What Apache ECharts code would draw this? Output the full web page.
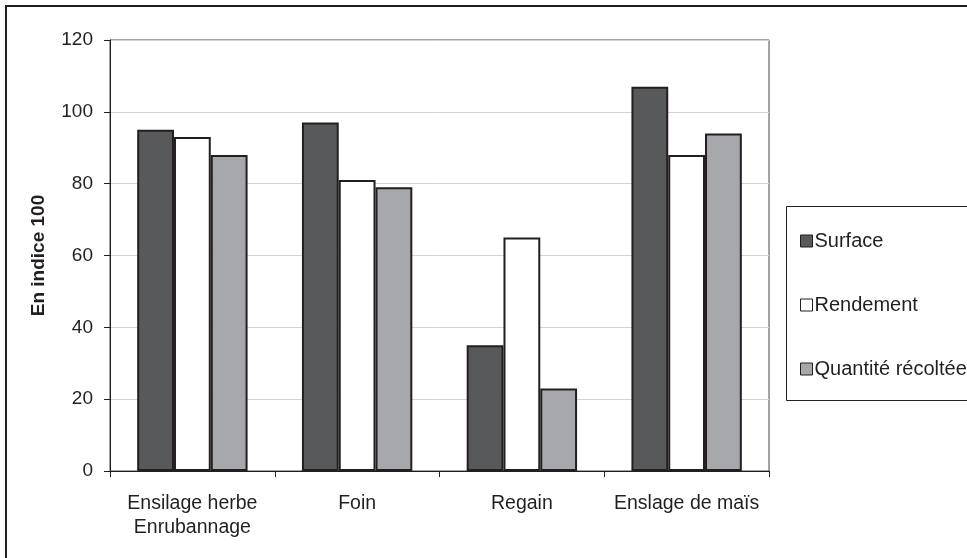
<!DOCTYPE html>
<html>
<head>
<meta charset="utf-8">
<script src="https://cdn.jsdelivr.net/npm/echarts@6/dist/echarts.min.js"></script>
<style>
  html, body { margin: 0; padding: 0; background: #fff; }
  #chart { width: 967px; height: 558px; }
</style>
</head>
<body>
<div id="chart"></div>
<script>
var categories = ['Ensilage herbe\nEnrubannage', 'Foin', 'Regain', 'Enslage de maïs'];
var surface = [95, 97, 35, 107];
var rendement = [93, 81, 65, 88];
var quantite = [88, 79, 23, 94];

var chartDom = document.getElementById('chart');
var myChart = echarts.init(chartDom);

var ink = '#231f20';
var font = 'Liberation Sans, Arial, sans-serif';

function barSeries(name, data, color) {
    return {
        name: name,
        type: 'bar',
        data: data,
        barGap: '0%',
        barCategoryGap: '33%',
        itemStyle: { color: color, borderColor: ink, borderWidth: 2 },
        emphasis: { disabled: true }
    };
}

var option = {
    animation: false,
    textStyle: { fontFamily: font },
    graphic: [
        {
            type: 'rect', silent: true, z: -1,
            shape: { x: 6, y: 6, width: 1100, height: 700 },
            style: { fill: 'none', stroke: ink, lineWidth: 2 }
        },
        {
            type: 'rect', silent: true, z: -1,
            shape: { x: 786.5, y: 206.5, width: 300, height: 194 },
            style: { fill: '#fff', stroke: ink, lineWidth: 1 }
        }
    ],
    grid: {
        left: 110, right: 198, top: 40, bottom: 87,
        show: true, borderColor: '#444', borderWidth: 1
    },
    legend: {
        orient: 'vertical',
        left: 795, top: 226,
        itemWidth: 12, itemHeight: 12, itemGap: 44,
        icon: 'rect',
        itemStyle: { borderWidth: 1 },
        textStyle: { fontSize: 20, color: ink, fontFamily: font, padding: [0, 0, 0, -3] },
        data: ['Surface', 'Rendement', 'Quantité récoltée']
    },
    xAxis: {
        type: 'category',
        data: categories,
        axisLine: { lineStyle: { color: ink, width: 1 } },
        axisTick: { show: true, interval: 0, length: 6, lineStyle: { color: ink } },
        axisLabel: { interval: 0, fontSize: 19.5, color: ink, margin: 21, lineHeight: 24, fontFamily: font }
    },
    yAxis: {
        type: 'value',
        min: 0, max: 120, interval: 20,
        name: 'En indice 100',
        nameLocation: 'middle',
        nameGap: 62,
        nameRotate: 90,
        nameTextStyle: { fontSize: 19, fontWeight: 'bold', color: ink, fontFamily: font },
        axisLine: { show: true, lineStyle: { color: ink, width: 1 } },
        axisTick: { show: true, length: 6, lineStyle: { color: ink } },
        axisLabel: { fontSize: 19, color: ink, margin: 17, fontFamily: font },
        splitLine: { lineStyle: { color: '#d4d4d4', width: 1 } }
    },
    series: [
        barSeries('Surface', surface, '#58595b'),
        barSeries('Rendement', rendement, '#ffffff'),
        barSeries('Quantité récoltée', quantite, '#a6a8ab')
    ]
};

myChart.setOption(option);
</script>
</body>
</html>
